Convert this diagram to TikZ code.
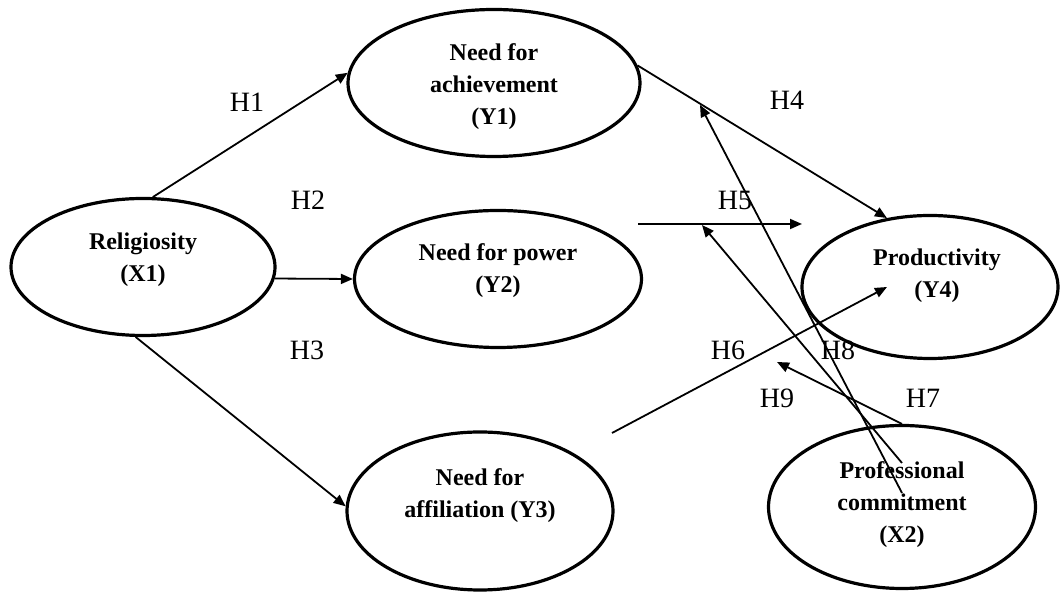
\documentclass[tikz,border=0pt]{standalone}
\usepackage{fontspec}
\setmainfont{Liberation Serif}
\usetikzlibrary{shapes.geometric,arrows.meta}

\begin{document}
\begin{tikzpicture}[x=0.5pt,y=-0.5pt,
    var/.style={draw, ellipse, line width=1.6pt, inner sep=0pt},
    vartext/.style={align=center, font=\fontsize{12}{16}\selectfont\bfseries},
    hyp/.style={-{Triangle[length=6pt,width=5pt]}, line width=0.9pt},
    hlabel/.style={font=\fontsize{14}{16}\selectfont}]
   \useasboundingbox (0,0) rectangle (1062,592);

   % latent variables
   \node[var, minimum width=132pt, minimum height=68.5pt,
         label={[vartext,yshift=3.5pt]center:Religiosity\\(X1)}] (X1) at (143,267) {};
   \node[var, minimum width=146pt, minimum height=73.5pt,
         label={[vartext,yshift=-2pt]center:Need for\\achievement\\(Y1)}] (Y1) at (494,83) {};
   \node[var, minimum width=143.5pt, minimum height=68.5pt,
         label={[vartext,yshift=4pt]center:Need for power\\(Y2)}] (Y2) at (498,279) {};
   \node[var, minimum width=133pt, minimum height=79pt,
         label={[vartext,yshift=7.5pt]center:Need for\\affiliation (Y3)}] (Y3) at (480,511) {};
   \node[var, minimum width=128pt, minimum height=71.5pt,
         label={[vartext,yshift=5.5pt,xshift=3.5pt]center:Productivity\\(Y4)}] (Y4) at (930,287) {};
   \node[var, minimum width=133.5pt, minimum height=81.5pt,
         label={[vartext,yshift=1pt]center:Professional\\commitment\\(X2)}] (X2) at (902,507) {};

   % free ends
   \coordinate (h5s) at (638,224);
   \coordinate (h5e) at (802,224);
   \coordinate (h6s) at (612,433);
   \coordinate (h6e) at (887,287);
   \coordinate (h9e) at (777,362);
   \coordinate (m1s) at (902,463);
   \coordinate (m1e) at (702,225);
   \coordinate (m2s) at (902,493);
   \coordinate (m2e) at (700,105);

   % paths
   \draw[hyp] (X1.82) -- (Y1.176);
   \draw[hyp] (X1.-5) -- (Y2.west);
   \draw[hyp] (X1.-96) -- (Y3.178);
   \draw[hyp] (Y1.7) -- (Y4.122);
   \draw[hyp] (h5s) -- (h5e);
   \draw[hyp] (h6s) -- (h6e);
   \draw[hyp] (X2.north) -- (h9e);
   \draw[hyp] (m1s) -- (m1e);
   \draw[hyp] (m2s) -- (m2e);

   % hypothesis labels
   \node[hlabel] (H1) at (247,102) {H1};
   \node[hlabel] (H2) at (308,200) {H2};
   \node[hlabel] (H3) at (307,350) {H3};
   \node[hlabel] (H4) at (787,100) {H4};
   \node[hlabel] (H5) at (735,200) {H5};
   \node[hlabel] (H6) at (728,350) {H6};
   \node[hlabel] (H7) at (923,398) {H7};
   \node[hlabel] (H8) at (838,350) {H8};
   \node[hlabel] (H9) at (777,398) {H9};
\end{tikzpicture}
\end{document}
